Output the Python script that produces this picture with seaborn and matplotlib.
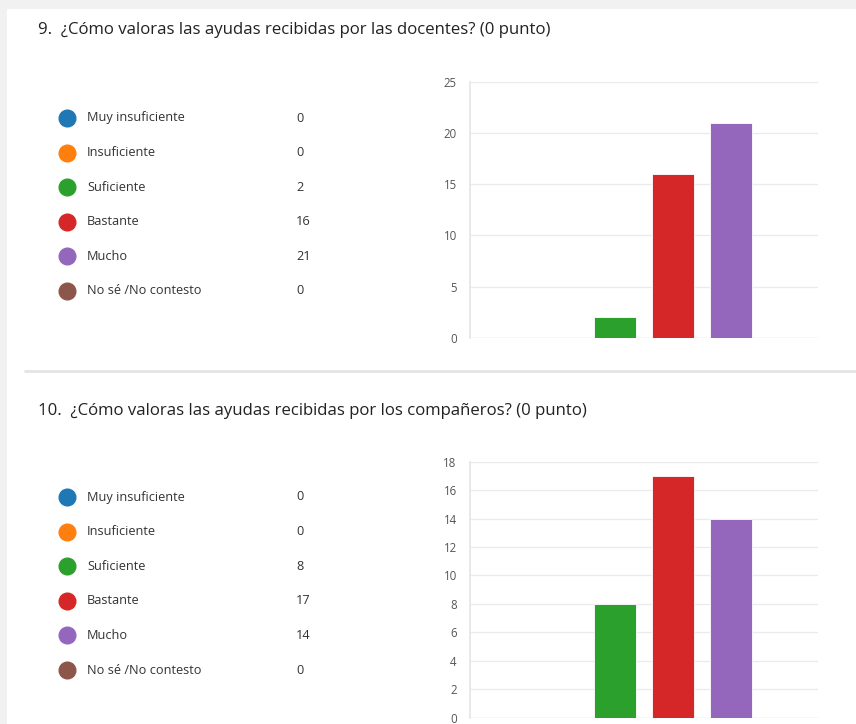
import matplotlib
matplotlib.use("Agg")
import matplotlib.pyplot as plt
import seaborn as sns
import pandas as pd
from matplotlib.patches import Rectangle

sns.set_theme(style="white")
plt.rcParams["font.family"] = ["Open Sans", "DejaVu Sans"]

categories = ["Muy insuficiente", "Insuficiente", "Suficiente", "Bastante", "Mucho", "No sé /No contesto"]
docentes = [0, 0, 2, 16, 21, 0]
companeros = [0, 0, 8, 17, 14, 0]
titles = ["9.  ¿Cómo valoras las ayudas recibidas por las docentes? (0 punto)",
          "10.  ¿Cómo valoras las ayudas recibidas por los compañeros? (0 punto)"]
colors = sns.color_palette("tab10", 6)

W, H = 856, 724
fig = plt.figure(figsize=(W / 100, H / 100), dpi=100)
fig.patch.set_facecolor("#f1f1f1")
fig.patches.append(Rectangle((7 / W, 0), 1, 1 - 9 / H, transform=fig.transFigure,
                             facecolor="white", edgecolor="none", zorder=-5))
fig.add_artist(plt.Line2D([25 / W, 1], [1 - 371 / H] * 2, transform=fig.transFigure,
                          color="#e4e4e4", lw=2))

def fx(x):
    return x / W

def fy(y):
    return 1 - y / H

panels = [
    dict(values=docentes, title=titles[0], title_y=30, leg_y=118, top=81.7, bottom=337.7, ymax=25, step=5),
    dict(values=companeros, title=titles[1], title_y=411, leg_y=497, top=461.7, bottom=717.7, ymax=18, step=2),
]

for p in panels:
    fig.text(fx(38), fy(p["title_y"]), p["title"], fontsize=12.1, color="#222222",
             va="center", ha="left")

    # legend list
    for i, (cat, val) in enumerate(zip(categories, p["values"])):
        yy = fy(p["leg_y"] + i * 34.6)
        fig.text(fx(87), yy, cat, fontsize=9.2, color="#333333", va="center", ha="left")
        fig.text(fx(296), yy, str(val), fontsize=9.2, color="#333333", va="center", ha="left")
        fig.add_artist(plt.Line2D([fx(67)], [yy], marker="o", markersize=12,
                                  color=colors[i], transform=fig.transFigure))

    ax = fig.add_axes([fx(470), fy(p["bottom"]), fx(818 - 470), (p["bottom"] - p["top"]) / H])
    df = pd.DataFrame({"cat": categories, "n": p["values"]})
    sns.barplot(data=df, x="cat", y="n", hue="cat", palette=colors, legend=False,
                saturation=1, width=0.72, edgecolor="white", linewidth=0.6, ax=ax)
    ax.set_xlim(-0.5, 5.5)
    ax.set_ylim(0, p["ymax"])
    ax.set_yticks(range(0, p["ymax"] + 1, p["step"]))
    ax.set_xticks([])
    ax.set_xlabel("")
    ax.set_ylabel("")
    ax.yaxis.grid(True, color="#ebebeb", lw=1)
    ax.set_axisbelow(True)
    for s in ["top", "right", "bottom"]:
        ax.spines[s].set_visible(False)
    ax.spines["left"].set_color("#e6e6e6")
    ax.tick_params(axis="y", labelsize=8.3, colors="#555555", length=0, pad=9.5)
    ax.axhline(0, color="#e6e6e6", lw=1, zorder=0)

fig.savefig("out.png", dpi=100, facecolor=fig.get_facecolor())
